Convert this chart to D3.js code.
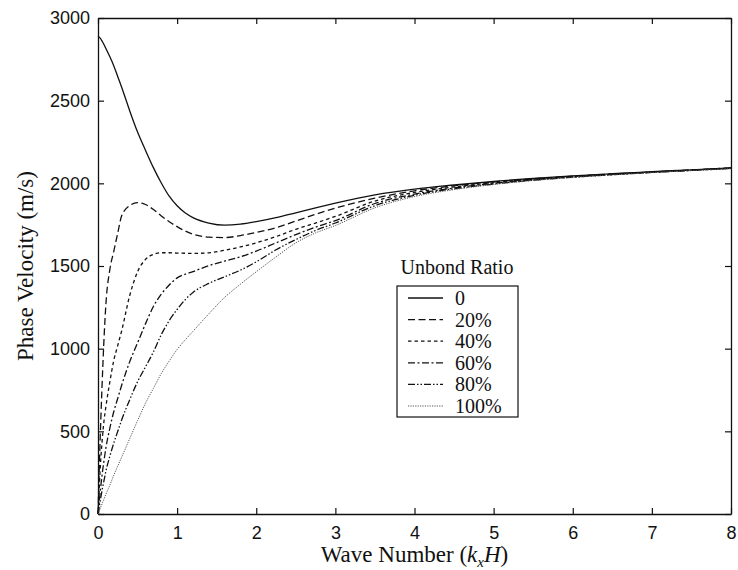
<!DOCTYPE html>
<html><head><meta charset="utf-8">
<script src="https://cdn.jsdelivr.net/npm/d3@7"></script>
<style>body{margin:0;background:#fff}svg{display:block}</style>
</head><body><svg id="c" width="738" height="570"></svg>
<script>
const waveNumber = [0,0.025,0.05,0.075,0.1,0.15,0.2,0.25,0.3,0.4,0.5,0.6,0.7,0.8,0.9,1.0,1.1,1.2,1.4,1.6,1.8,2.0,2.25,2.5,2.75,3.0,3.5,4.0,4.5,5.0,5.5,6.0,6.5,7.0,7.5,8.0];
const ratio0   = [2890,2880,2862,2840,2815,2765,2710,2645,2580,2440,2310,2200,2095,2002,1922,1864,1822,1793,1760,1747,1753,1768,1792,1822,1852,1880,1930,1965,1990,2012,2030,2045,2058,2070,2082,2094];
const ratio20  = [0,420,760,1050,1270,1480,1590,1700,1805,1865,1883,1872,1842,1803,1768,1738,1712,1692,1675,1672,1684,1703,1732,1772,1813,1850,1910,1955,1985,2008,2027,2043,2057,2069,2081,2093];
const ratio40  = [0,250,430,560,650,800,930,1020,1110,1320,1465,1540,1570,1580,1580,1578,1577,1576,1580,1595,1615,1640,1678,1722,1760,1800,1893,1945,1978,2004,2024,2041,2055,2068,2080,2092];
const ratio60  = [0,120,230,320,400,520,620,700,780,920,1035,1150,1255,1330,1385,1428,1450,1466,1502,1530,1556,1590,1640,1690,1735,1775,1878,1935,1972,2000,2021,2039,2054,2067,2079,2091];
const ratio80  = [0,70,140,200,260,350,430,500,570,690,800,890,980,1085,1170,1237,1295,1340,1395,1435,1475,1525,1598,1660,1715,1760,1865,1928,1967,1996,2019,2037,2052,2066,2078,2090];
const ratio100 = [0,30,60,90,120,175,235,290,345,455,565,670,760,850,925,995,1052,1105,1210,1310,1390,1465,1555,1640,1700,1745,1852,1920,1962,1993,2017,2035,2051,2065,2077,2089];
const seriesNames = ["0","20%","40%","60%","80%","100%"];
const seriesValues = [ratio0, ratio20, ratio40, ratio60, ratio80, ratio100];
const xTicks = [0,1,2,3,4,5,6,7,8];
const yTicks = [0,500,1000,1500,2000,2500,3000];
const dashes = [null, "7,3.5", "3.5,3", "7,2.5,2,2.5", "7,2,1.5,2,1.5,2", "1.2,1.2"];
const strokes = ["#111","#111","#111","#111","#111","#555"];

const svg = d3.select("#c");
const L = 98, R = 731, T = 18, B = 514;
const x = d3.scaleLinear().domain([0,8]).range([L,R]);
const y = d3.scaleLinear().domain([0,3000]).range([B,T]);

const tickFont = "'Liberation Sans', Arial, sans-serif";
const gB = svg.append("g").attr("transform",`translate(0,${B})`)
  .call(d3.axisBottom(x).tickValues(xTicks).tickFormat(d3.format("d")).tickSizeInner(-6).tickSizeOuter(0).tickPadding(12));
const gL = svg.append("g").attr("transform",`translate(${L},0)`)
  .call(d3.axisLeft(y).tickValues(yTicks).tickFormat(d3.format("d")).tickSizeInner(-6).tickSizeOuter(0).tickPadding(8));
const gT = svg.append("g").attr("transform",`translate(0,${T})`)
  .call(d3.axisTop(x).tickValues(xTicks).tickFormat("").tickSizeInner(-6).tickSizeOuter(0));
const gR = svg.append("g").attr("transform",`translate(${R},0)`)
  .call(d3.axisRight(y).tickValues(yTicks).tickFormat("").tickSizeInner(-6).tickSizeOuter(0));
[gB,gL,gT,gR].forEach(g=>{
  g.selectAll("path.domain").attr("stroke","#111").attr("stroke-width",1.3);
  g.selectAll(".tick line").attr("stroke","#111").attr("stroke-width",1.2);
  g.selectAll(".tick text").attr("fill","#111").style("font-family",tickFont).style("font-size","18px");
});

const line = d3.line().x((d,i)=>x(waveNumber[i])).y(d=>y(d)).curve(d3.curveMonotoneX);
seriesValues.forEach((vals,k)=>{
  svg.append("path").datum(vals).attr("d",line)
    .attr("fill","none").attr("stroke",strokes[k]).attr("stroke-width",k===5?1:1.3)
    .attr("stroke-dasharray",dashes[k]);
});

const serif = "'Liberation Serif','Times New Roman',serif";
const xt = svg.append("text").attr("x",(L+R)/2).attr("y",562).attr("text-anchor","middle")
  .style("font-family",serif).style("font-size","23px").attr("fill","#111");
xt.append("tspan").text("Wave Number (");
xt.append("tspan").attr("font-style","italic").text("k");
xt.append("tspan").attr("font-style","italic").attr("font-size","15px").attr("dy",5).text("x");
xt.append("tspan").attr("font-style","italic").attr("dy",-5).text("H");
xt.append("tspan").text(")");

svg.append("text").attr("transform",`translate(33,${(T+B)/2}) rotate(-90)`).attr("text-anchor","middle")
  .style("font-family",serif).style("font-size","23px").attr("fill","#111").text("Phase Velocity (m/s)");

svg.append("text").attr("x",457).attr("y",274).attr("text-anchor","middle")
  .style("font-family",serif).style("font-size","20px").attr("fill","#111").text("Unbond Ratio");
svg.append("rect").attr("x",397).attr("y",286).attr("width",121).attr("height",131)
  .attr("fill","#fff").attr("stroke","#111").attr("stroke-width",1.2);
seriesNames.forEach((n,k)=>{
  const yy = 298 + k*21.6;
  svg.append("line").attr("x1",408).attr("x2",443).attr("y1",yy).attr("y2",yy)
    .attr("stroke",strokes[k]).attr("stroke-width",k===5?1:1.3).attr("stroke-dasharray",dashes[k]);
  svg.append("text").attr("x",455).attr("y",yy+7).style("font-family",serif).style("font-size","20px")
    .attr("fill","#111").text(n);
});
</script></body></html>
